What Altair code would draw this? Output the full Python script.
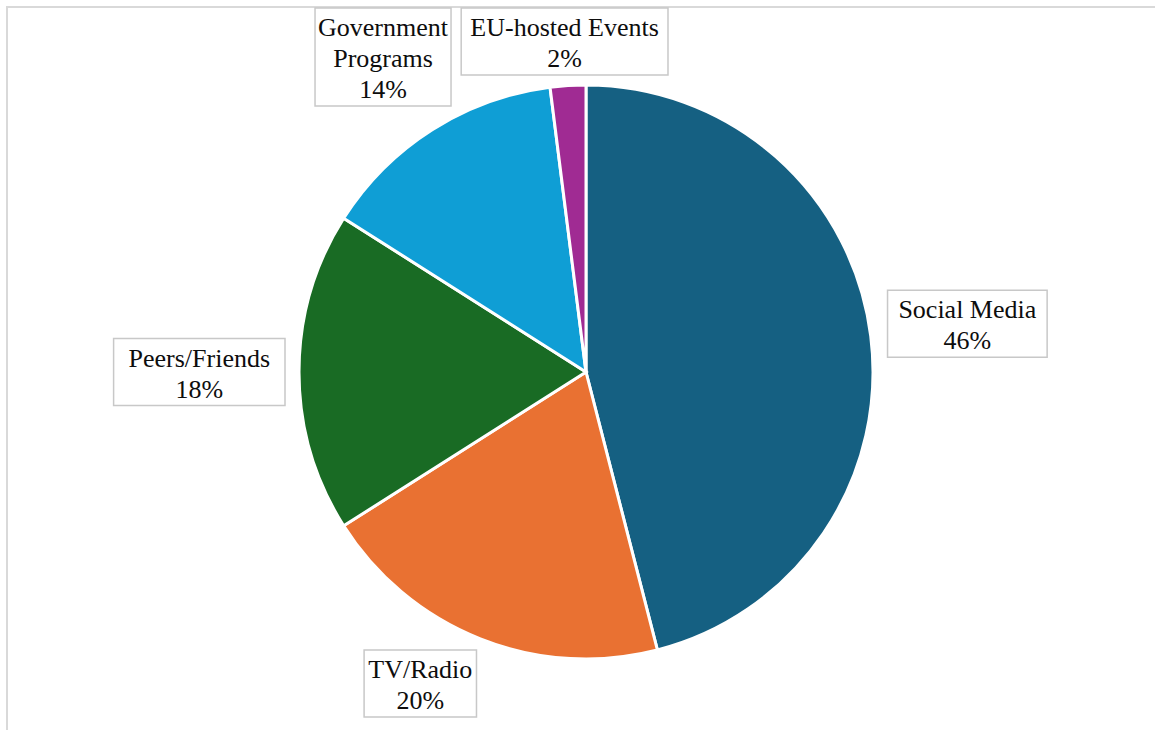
import altair as alt
import pandas as pd

# ---- data ----
categories = ["Social Media", "TV/Radio", "Peers/Friends", "Government Programs", "EU-hosted Events"]
shares = [46, 20, 18, 14, 2]
label_lines = [["Social Media"], ["TV/Radio"], ["Peers/Friends"], ["Government", "Programs"], ["EU-hosted Events"]]
colors = ["#156082", "#E97132", "#196B24", "#0F9ED5", "#A02B93"]

# ---- layout constants ----
W, H = 1155, 730
CX, CY, R = 586, 372, 287
GAP = 14
CHAR_W, PAD_X = 11.8, 9
LINE_H = 31
PAD_Y = 5
TOP, BOTTOM = 8, H - 13

df = pd.DataFrame({"category": categories, "share": shares, "idx": list(range(len(categories)))})
df["text"] = ["\n".join(l + [f"{s}%"]) for l, s in zip(label_lines, shares)]
df["nlines"] = [len(l) + 1 for l in label_lines]
df["maxlen"] = [max(len(x) for x in l + [f"{s}%"]) for l, s in zip(label_lines, shares)]

base = alt.Chart(df)

pie = base.mark_arc(outerRadius=R, stroke="white", strokeWidth=3).encode(
    theta=alt.Theta("share:Q", stack=True),
    order=alt.Order("idx:Q"),
    color=alt.Color("category:N", scale=alt.Scale(domain=categories, range=colors), legend=None),
    x=alt.value(CX),
    y=alt.value(CY),
)

lab = (
    base.transform_joinaggregate(total="sum(share)")
    .transform_window(cum="sum(share)", sort=[alt.SortField("idx")], frame=[None, 0])
    .transform_calculate(mid="(datum.cum - datum.share/2)/datum.total*2*PI")
    .transform_calculate(ux="sin(datum.mid)", uy="-cos(datum.mid)")
    .transform_calculate(
        hw=f"datum.maxlen*{CHAR_W}/2 + {PAD_X}",
        hh=f"(datum.nlines*{LINE_H} + {PAD_Y})/2",
    )
    .transform_calculate(r=f"{R} + {GAP} + datum.hw*abs(datum.ux) + datum.hh*abs(datum.uy)")
    .transform_calculate(
        yc=f"clamp({CY} + datum.r*datum.uy, {TOP} + datum.hh, {BOTTOM} - datum.hh)"
    )
    .transform_calculate(
        xc=f"datum.uy > 0 ? {CX} + (datum.ux < 0 ? -1 : 1)*sqrt(max(datum.r*datum.r - pow(datum.yc-{CY},2), 0)) : {CX} + datum.r*datum.ux"
    )
    .transform_calculate(
        x0="datum.xc - datum.hw", x1="datum.xc + datum.hw",
        y0="datum.yc - datum.hh", y1="datum.yc + datum.hh",
        ty=f"datum.yc - (datum.nlines - 1)*{LINE_H}/2 + 2",
    )
)

boxes = lab.mark_rect(fill="white", stroke="#C8C8C8", strokeWidth=1.5).encode(
    x=alt.X("x0:Q", scale=None, axis=None),
    x2="x1:Q",
    y=alt.Y("y0:Q", scale=None, axis=None),
    y2="y1:Q",
)

texts = lab.mark_text(
    lineBreak="\n", font="Liberation Serif", fontSize=26, lineHeight=LINE_H,
    align="center", baseline="middle", color="#0d0d0d",
).encode(
    x=alt.X("xc:Q", scale=None, axis=None),
    y=alt.Y("ty:Q", scale=None, axis=None),
    text="text:N",
)

frame = alt.Chart(alt.Data(values=[{"a": 1}])).mark_rect(
    fill="white", stroke="#D9D9D9", strokeWidth=2
).encode(x=alt.value(7), x2=alt.value(W + 20), y=alt.value(7), y2=alt.value(H + 20))

chart = alt.layer(frame, pie, boxes, texts).properties(
    width=W, height=H, padding=0, autosize=alt.AutoSizeParams(type="none")
).configure_view(stroke=None)

chart.save("out.html", embed_options={"renderer": "svg", "actions": False})
